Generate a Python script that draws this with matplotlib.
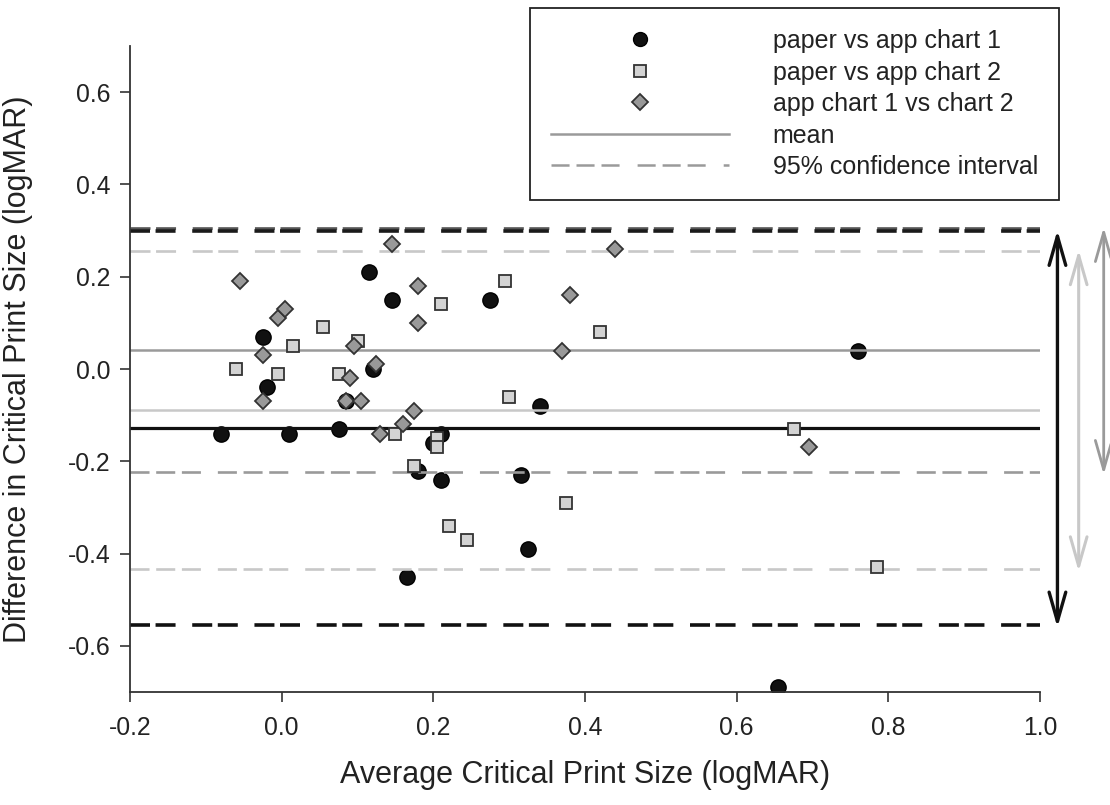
import matplotlib
matplotlib.use('Agg')
import matplotlib.pyplot as plt
from matplotlib.lines import Line2D

plt.rcParams['font.family'] = ['Liberation Sans', 'DejaVu Sans']
plt.rcParams['axes.unicode_minus'] = False
plt.rcParams['lines.scale_dashes'] = False

# ---------------- data ----------------
chart1_x = [-0.08, -0.025, -0.02, 0.01, 0.075, 0.085, 0.115, 0.12, 0.145, 0.165,
            0.18, 0.20, 0.21, 0.21, 0.275, 0.315, 0.325, 0.34, 0.655, 0.76]
chart1_y = [-0.14, 0.07, -0.04, -0.14, -0.13, -0.07, 0.21, 0.0, 0.15, -0.45,
            -0.22, -0.16, -0.14, -0.24, 0.15, -0.23, -0.39, -0.08, -0.69, 0.04]

chart2_x = [-0.06, -0.005, 0.015, 0.055, 0.075, 0.10, 0.15, 0.175, 0.205, 0.205,
            0.21, 0.22, 0.245, 0.295, 0.30, 0.375, 0.42, 0.675, 0.785]
chart2_y = [0.0, -0.01, 0.05, 0.09, -0.01, 0.06, -0.14, -0.21, -0.15, -0.17,
            0.14, -0.34, -0.37, 0.19, -0.06, -0.29, 0.08, -0.13, -0.43]

c1c2_x = [-0.055, -0.025, -0.025, -0.005, 0.005, 0.085, 0.09, 0.095, 0.105, 0.125,
          0.13, 0.145, 0.16, 0.175, 0.18, 0.18, 0.37, 0.38, 0.44, 0.695]
c1c2_y = [0.19, 0.03, -0.07, 0.11, 0.13, -0.07, -0.02, 0.05, -0.07, 0.01,
          -0.14, 0.27, -0.12, -0.09, 0.18, 0.10, 0.04, 0.16, 0.26, -0.17]

# mean and 95% limits: [paper vs chart 1, paper vs chart 2, chart 1 vs chart 2]
mean_vals = [-0.128, -0.089, 0.041]
upper_vals = [0.299, 0.256, 0.305]
lower_vals = [-0.555, -0.434, -0.224]

series_labels = ['paper vs app chart 1', 'paper vs app chart 2', 'app chart 1 vs chart 2',
                 'mean', '95% confidence interval']
x_ticks = [-0.2, 0.0, 0.2, 0.4, 0.6, 0.8, 1.0]
y_ticks = [-0.6, -0.4, -0.2, 0.0, 0.2, 0.4, 0.6]

# ---------------- style ----------------
BLACK = '#111111'
GRAY = '#9a9a9a'
LIGHT = '#c8c8c8'
two_dash = (0, (14.4, 4.0, 14.4, 12.0))
three_dash = (0, (13.7, 4.8, 13.7, 4.8, 13.7, 12.2))

fig = plt.figure(figsize=(11.1, 8.05), dpi=100)
ax = fig.add_axes([130 / 1110, 113 / 805, 910 / 1110, 646 / 805])
ax.set_xlim(-0.2, 1.0)
ax.set_ylim(-0.7, 0.7)

# circles (under lines)
ax.plot(chart1_x, chart1_y, ls='none', marker='o', ms=11, mfc=BLACK, mec='#000000',
        mew=1.0, zorder=1.5)

# lines
line_colors = [BLACK, LIGHT, GRAY]
mean_lw = [2.3, 1.8, 1.8]
ci_lw = [2.6, 1.9, 1.9]
upper_ls = [two_dash, two_dash, two_dash]
lower_ls = [two_dash, three_dash, three_dash]
upper_colors = ['#1a1a1a', LIGHT, '#555555']
for i in [2, 1, 0]:
    ax.axhline(mean_vals[i], color=line_colors[i], lw=mean_lw[i], zorder=2)
    ax.axhline(upper_vals[i], color=upper_colors[i], lw=ci_lw[i], ls=upper_ls[i], zorder=2)
    ax.axhline(lower_vals[i], color=line_colors[i], lw=ci_lw[i], ls=lower_ls[i], zorder=2)

# squares and diamonds
ax.plot(chart2_x, chart2_y, ls='none', marker='s', ms=8.5, mfc='#d3d3d3', mec='#333333',
        mew=1.3, zorder=3)
ax.plot(c1c2_x, c1c2_y, ls='none', marker='D', ms=8.2, mfc='#999999', mec='#333333',
        mew=1.3, zorder=3.5)

# double-headed arrows outside the plotting area
arrow_x = [1.023, 1.051, 1.084]
arrow_lw = [2.4, 2.2, 2.0]
for i in range(3):
    ax.annotate('', xy=(arrow_x[i], lower_vals[i] - 0.005), xytext=(arrow_x[i], upper_vals[i] + 0.002),
                xycoords='data', textcoords='data', annotation_clip=False,
                arrowprops=dict(arrowstyle='<->,head_length=21,head_width=6', mutation_scale=1,
                                lw=arrow_lw[i], color=line_colors[i], shrinkA=0, shrinkB=0))

# axes styling
for s in ['top', 'right']:
    ax.spines[s].set_visible(False)
for s in ['left', 'bottom']:
    ax.spines[s].set_color('#333333')
    ax.spines[s].set_linewidth(1.3)
ax.set_xticks(x_ticks)
ax.set_yticks(y_ticks)
ax.set_xticklabels([f'{v:.1f}' for v in x_ticks])
ax.set_yticklabels([f'{v:.1f}' for v in y_ticks])
ax.tick_params(axis='both', direction='out', length=7, width=1.2, color='#333333',
               labelsize=17.8, labelcolor='#222222')
ax.tick_params(axis='x', pad=10)
ax.tick_params(axis='y', pad=7)

ax.set_xlabel('Average Critical Print Size (logMAR)', fontsize=22, color='#222222')
ax.set_ylabel('Difference in Critical Print Size (logMAR)', fontsize=22, color='#222222')
ax.xaxis.label.set_va('center')
ax.yaxis.label.set_va('center')
ax.xaxis.set_label_coords(0.5, (692 - 775) / 646)
ax.yaxis.set_label_coords((18 - 130) / 910, 0.5)

# legend
handles = [
    Line2D([], [], ls='none', marker='o', ms=10, mfc=BLACK, mec='#000000'),
    Line2D([], [], ls='none', marker='s', ms=8, mfc='#d3d3d3', mec='#333333', mew=1.3),
    Line2D([], [], ls='none', marker='D', ms=7.8, mfc='#999999', mec='#333333', mew=1.3),
    Line2D([], [], color=GRAY, lw=1.8),
    Line2D([], [], color=GRAY, lw=1.8, ls=(0, (13, 5, 13, 5, 13, 13))),
]
leg = ax.legend(handles, series_labels, loc='upper left',
                bbox_to_anchor=(530 / 1110, 1 - 8 / 805), bbox_transform=fig.transFigure,
                frameon=True, fancybox=False, framealpha=1, edgecolor='#222222',
                fontsize=18, handlelength=7.1, handletextpad=1.76, borderpad=0.85,
                labelspacing=0.30, borderaxespad=0, numpoints=1)
leg.get_frame().set_linewidth(1.3)
for t in leg.get_texts():
    t.set_color('#222222')

fig.savefig('out.png', dpi=100)
